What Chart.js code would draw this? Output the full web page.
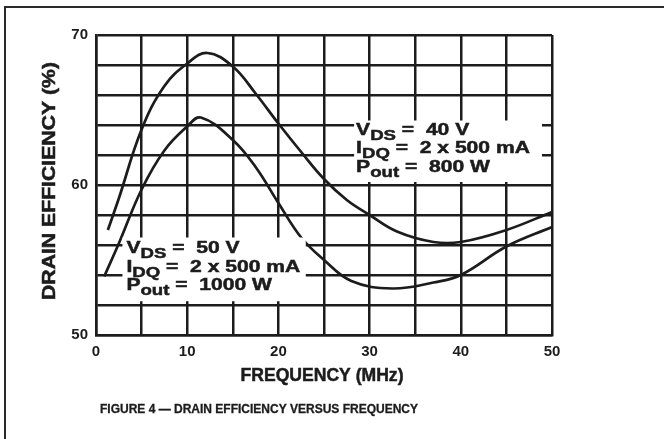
<!DOCTYPE html>
<html>
<head>
<meta charset="utf-8">
<script src="https://cdn.jsdelivr.net/npm/chart.js@4/dist/chart.umd.min.js"></script>
<style>
  html, body { margin: 0; padding: 0; background: #fff; }
  #wrap { width: 664px; height: 439px; }
</style>
</head>
<body>
<div id="wrap"><canvas id="effChart" width="664" height="439"></canvas></div>
<script>
// VDS = 40 V, Pout = 800 W
const freq40 = [1.3, 2.5, 5, 7.5, 10, 12.2, 15, 17.5, 20, 22.5, 25, 27.5, 30, 33, 37, 40, 45, 50];
const eff40 = [57.0, 59.1, 63.7, 66.6, 68.1, 68.8, 67.9, 66.1, 64.1, 62.2, 60.4, 59.0, 58.0, 56.9, 56.2, 56.2, 57.0, 58.2];
// VDS = 50 V, Pout = 1000 W
const freq50 = [0.9, 2.5, 5, 7.5, 10, 11.5, 15, 17.5, 20, 22.5, 25, 28, 32.5, 37, 40, 45, 50];
const eff50 = [53.9, 56.1, 59.7, 62.3, 63.9, 64.5, 63.0, 61.2, 58.8, 56.5, 55.0, 53.6, 53.1, 53.5, 54.0, 55.9, 57.2];

const xTicksShown = [0, 10, 20, 30, 40, 50];
const yTicksShown = [50, 60, 70];

const ink = '#1c1c1c';
const FONT = "'Liberation Sans', Arial, sans-serif";

function toPoints(xs, ys) {
    return xs.map((x, i) => ({ x: x, y: ys[i] }));
}

// fill + thin stroke so the letters look as heavy as the scan
function heavyText(ctx, text, x, y) {
    ctx.fillText(text, x, y);
    ctx.strokeText(text, x, y);
}

// main text + subscript + rest, stretched a bit sideways like the scan
function drawSubText(ctx, x, y, main, sub, rest, size, sx) {
    ctx.save();
    ctx.translate(x, y);
    ctx.scale(sx, 1);
    let cx = 0;
    ctx.font = `bold ${size}px ${FONT}`;
    heavyText(ctx, main, cx, 0);
    cx += ctx.measureText(main).width;
    ctx.font = `bold ${Math.round(size * 0.88)}px ${FONT}`;
    heavyText(ctx, sub, cx, size * 0.34);
    cx += ctx.measureText(sub).width;
    ctx.font = `bold ${size}px ${FONT}`;
    heavyText(ctx, rest, cx, 0);
    ctx.restore();
}

// centred text stretched to a given width
function drawFit(ctx, text, x, y, size, width) {
    ctx.save();
    ctx.font = `bold ${size}px ${FONT}`;
    const w = ctx.measureText(text).width;
    ctx.translate(x, y);
    ctx.scale(width / w, 1);
    ctx.textAlign = 'center';
    heavyText(ctx, text, 0, 0);
    ctx.restore();
}

const decorPlugin = {
    id: 'decor',
    afterDraw(chart) {
        const ctx = chart.ctx;
        const xs = chart.scales.x, ys = chart.scales.y;
        const area = chart.chartArea;
        ctx.save();

        // outer frame (left + top)
        ctx.strokeStyle = '#2a2a2a';
        ctx.lineWidth = 2;
        ctx.beginPath();
        ctx.moveTo(5, 439);
        ctx.lineTo(5, 7);
        ctx.lineTo(664, 7);
        ctx.stroke();

        // legend boxes
        ctx.fillStyle = '#fff';
        let l1 = xs.getPixelForValue(28.3), t1 = ys.getPixelForValue(64.3);
        ctx.fillRect(l1, t1, xs.getPixelForValue(48.9) - l1, ys.getPixelForValue(60.2) - t1);
        let l2 = xs.getPixelForValue(2.9), t2 = ys.getPixelForValue(56.5);
        ctx.fillRect(l2, t2, xs.getPixelForValue(23) - l2, ys.getPixelForValue(52.25) - t2);

        ctx.fillStyle = ink;
        ctx.strokeStyle = ink;
        ctx.lineWidth = 0.5;
        ctx.textBaseline = 'middle';
        ctx.textAlign = 'left';
        drawSubText(ctx, l1 + 2, t1 + 10, 'V', 'DS', ' =  40 V', 17, 1.24);
        drawSubText(ctx, l1 + 2, t1 + 28, 'I', 'DQ', ' =  2 x 500 mA', 17, 1.24);
        drawSubText(ctx, l1 + 2, t1 + 47, 'P', 'out', ' =  800 W', 17, 1.24);
        drawSubText(ctx, l2 + 4, t2 + 11, 'V', 'DS', ' =  50 V', 17, 1.24);
        drawSubText(ctx, l2 + 4, t2 + 30, 'I', 'DQ', ' =  2 x 500 mA', 17, 1.24);
        drawSubText(ctx, l2 + 4, t2 + 48, 'P', 'out', ' =  1000 W', 17, 1.24);

        // axis titles
        drawFit(ctx, 'FREQUENCY (MHz)', (area.left + area.right) / 2 - 2, 376, 18, 163);
        ctx.save();
        ctx.translate(50, 181);
        ctx.rotate(-Math.PI / 2);
        drawFit(ctx, 'DRAIN EFFICIENCY (%)', 0, 0, 18, 238);
        ctx.restore();

        // caption
        ctx.textAlign = 'left';
        ctx.font = `bold 12px ${FONT}`;
        ctx.lineWidth = 0.3;
        heavyText(ctx, 'FIGURE 4 \u2014 DRAIN EFFICIENCY VERSUS FREQUENCY', 100, 410);
        ctx.restore();
    }
};

const gridStyle = { color: ink, lineWidth: 2.5, drawTicks: false };

new Chart(document.getElementById('effChart'), {
    type: 'line',
    data: {
        datasets: [
            {
                label: 'VDS = 40 V',
                data: toPoints(freq40, eff40),
                borderColor: ink,
                borderWidth: 2.7,
                pointRadius: 0,
                tension: 0.4,
                fill: false
            },
            {
                label: 'VDS = 50 V',
                data: toPoints(freq50, eff50),
                borderColor: ink,
                borderWidth: 2.7,
                pointRadius: 0,
                tension: 0.4,
                fill: false
            }
        ]
    },
    options: {
        responsive: false,
        animation: false,
        events: [],
        layout: { padding: { left: 0, top: 35, right: 112, bottom: 0 } },
        plugins: { legend: { display: false }, tooltip: { enabled: false } },
        scales: {
            x: {
                type: 'linear',
                min: 0,
                max: 50,
                grid: gridStyle,
                border: { color: ink, width: 2.5 },
                ticks: {
                    stepSize: 5,
                    padding: 8,
                    color: ink,
                    font: { family: FONT, size: 15, weight: 'bold' },
                    callback: v => xTicksShown.includes(v) ? String(v) : ''
                },
                afterFit: s => { s.height = 104; }
            },
            y: {
                min: 50,
                max: 70,
                grid: gridStyle,
                border: { color: ink, width: 2.5 },
                ticks: {
                    stepSize: 2,
                    padding: 8,
                    color: ink,
                    font: { family: FONT, size: 15, weight: 'bold' },
                    callback: v => yTicksShown.includes(v) ? String(v) : ''
                },
                afterFit: s => { s.width = 96; }
            }
        }
    },
    plugins: [decorPlugin]
});
</script>
</body>
</html>
